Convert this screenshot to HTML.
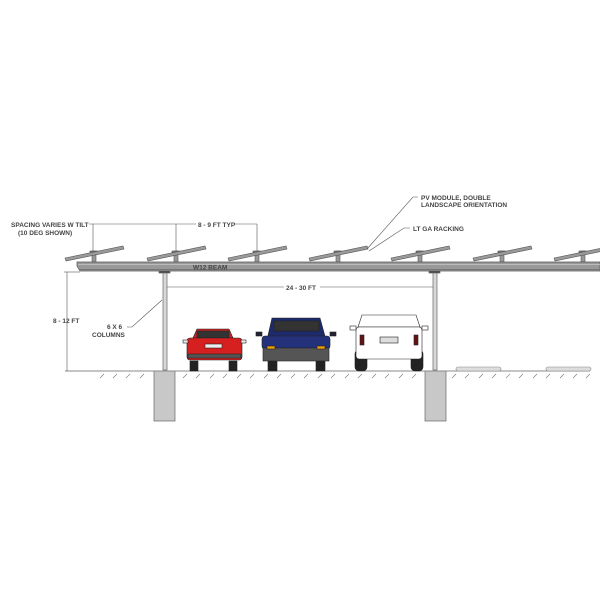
<!DOCTYPE html>
<html><head><style>body{margin:0;background:#fff}svg{display:block}text{font-family:"Liberation Sans",Arial,sans-serif;font-weight:bold;fill:#444;font-size:6.5px}</style></head>
<body>
<svg width="600" height="600" viewBox="0 0 600 600">
<rect width="600" height="600" fill="#fff"/>
<!-- panels -->
<g stroke="#555" stroke-width="0.6">
<g id="p"><rect x="92" y="251" width="4" height="11" fill="#999"/><rect x="90" y="251" width="8" height="2" fill="#777"/><polygon points="65,258 123,246 124,249 66,261" fill="#9a9a9a"/></g>
<use href="#p" x="82"/><use href="#p" x="163"/><use href="#p" x="244"/><use href="#p" x="326"/><use href="#p" x="408"/><use href="#p" x="489"/>
</g>
<!-- beam -->
<polygon points="77,262 600,262 600,271 80,271 77,266" fill="#999" stroke="#555" stroke-width="0.7"/>
<line x1="78" y1="264.5" x2="600" y2="264.5" stroke="#bbb" stroke-width="1"/>
<line x1="80" y1="269.5" x2="600" y2="269.5" stroke="#777" stroke-width="1"/>
<text x="193" y="269.5" font-size="8" fill="#333">W12 BEAM</text>
<!-- columns -->
<g fill="#d8d8d8" stroke="#666" stroke-width="0.7">
<rect x="159" y="271" width="11" height="2" fill="#444"/><rect x="163" y="273" width="4" height="97"/>
<rect x="429" y="271" width="11" height="2" fill="#444"/><rect x="433" y="273" width="4" height="97"/>
<rect x="154" y="371" width="21" height="50" fill="#c8c8c8"/><rect x="425" y="371" width="21" height="50" fill="#c8c8c8"/>
</g>
<!-- ground -->
<line x1="65" y1="371" x2="590" y2="371" stroke="#888" stroke-width="1"/>
<g stroke="#777" stroke-width="0.6">
<path d="M100,378l4,-4M113,378l4,-4M126,378l4,-4M140,378l4,-4M183,378l4,-4M196,378l4,-4M210,378l4,-4M223,378l4,-4M237,378l4,-4M250,378l4,-4M264,378l4,-4M277,378l4,-4M291,378l4,-4M304,378l4,-4M318,378l4,-4M331,378l4,-4M345,378l4,-4M358,378l4,-4M372,378l4,-4M385,378l4,-4M399,378l4,-4M412,378l4,-4M452,378l4,-4M465,378l4,-4M479,378l4,-4M492,378l4,-4M506,378l4,-4M519,378l4,-4M533,378l4,-4M546,378l4,-4M560,378l4,-4M573,378l4,-4M586,378l4,-4"/>
</g>
<rect x="456" y="367" width="45" height="4" rx="2" fill="#ddd" stroke="#888" stroke-width="0.6"/>
<rect x="546" y="367" width="45" height="4" rx="2" fill="#ddd" stroke="#888" stroke-width="0.6"/>
<!-- dimensions -->
<g stroke="#555" stroke-width="0.6" fill="none">
<line x1="89" y1="224" x2="257" y2="224"/><line x1="93" y1="224" x2="93" y2="252"/><line x1="176" y1="224" x2="176" y2="252"/><line x1="257" y1="224" x2="257" y2="252"/>
<line x1="67" y1="272" x2="67" y2="371"/><line x1="64" y1="272" x2="80" y2="272"/>
<line x1="167" y1="287" x2="433" y2="287"/>
<polyline points="127,327 132,327 162,300"/>
<polyline points="418,197 413,197 367,249"/>
<polyline points="410,228 404,228 369,251"/>
</g>
<rect x="196" y="220" width="38" height="8" fill="#fff"/>
<rect x="284" y="283" width="36" height="8" fill="#fff"/>
<text x="11" y="227">SPACING VARIES W TILT</text>
<text x="18" y="235">(10 DEG SHOWN)</text>
<text x="198" y="227">8 - 9 FT TYP</text>
<text x="53" y="323">8 - 12 FT</text>
<text x="107" y="329">6 X 6</text>
<text x="92" y="337">COLUMNS</text>
<text x="286" y="290">24 - 30 FT</text>
<text x="421" y="200">PV MODULE, DOUBLE</text>
<text x="421" y="207">LANDSCAPE ORIENTATION</text>
<text x="413" y="231">LT GA RACKING</text>
<!-- red car -->
<g stroke="#222" stroke-width="0.6">
<rect x="190" y="361" width="8" height="10" fill="#222"/><rect x="229" y="361" width="8" height="10" fill="#222"/>
<path d="M193,338 L197,329 L229,329 L233,338 Z" fill="#c22"/>
<rect x="197" y="331" width="32" height="7" fill="#333"/>
<rect x="187" y="338" width="55" height="22" rx="3" fill="#d62020"/>
<rect x="205" y="344" width="17" height="4" fill="#eee"/>
<rect x="188" y="354" width="53" height="4" fill="#555"/>
<rect x="183" y="340" width="5" height="3" fill="#eee"/><rect x="241" y="340" width="5" height="3" fill="#eee"/>
</g>
<!-- blue car -->
<g stroke="#222" stroke-width="0.6">
<rect x="268" y="361" width="9" height="10" fill="#222"/><rect x="316" y="361" width="9" height="10" fill="#222"/>
<path d="M267,340 L272,318 L320,318 L326,340 Z" fill="#1e2b6a"/>
<rect x="274" y="321" width="45" height="10" fill="#333"/>
<rect x="262" y="336" width="68" height="13" rx="3" fill="#23327a"/>
<rect x="263" y="348" width="66" height="13" fill="#555"/>
<rect x="267" y="346" width="8" height="3" fill="#f0a000"/><rect x="317" y="346" width="8" height="3" fill="#f0a000"/>
<rect x="256" y="332" width="6" height="4" fill="#223"/><rect x="330" y="332" width="6" height="4" fill="#223"/>
</g>
<!-- white car -->
<g stroke="#222" stroke-width="0.6">
<rect x="355" y="350" width="12" height="21" rx="4" fill="#222"/><rect x="411" y="350" width="12" height="21" rx="4" fill="#222"/>
<path d="M358,327 L362,315 L416,315 L420,327 Z" fill="#fff"/>
<rect x="356" y="327" width="66" height="32" rx="3" fill="#fff"/>
<rect x="360" y="335" width="4" height="10" fill="#611"/><rect x="414" y="335" width="4" height="10" fill="#611"/>
<rect x="380" y="337" width="18" height="6" fill="#ddd"/>
<rect x="350" y="326" width="6" height="4" fill="#fff"/><rect x="422" y="326" width="6" height="4" fill="#fff"/>
</g>
</svg>
</body></html>
